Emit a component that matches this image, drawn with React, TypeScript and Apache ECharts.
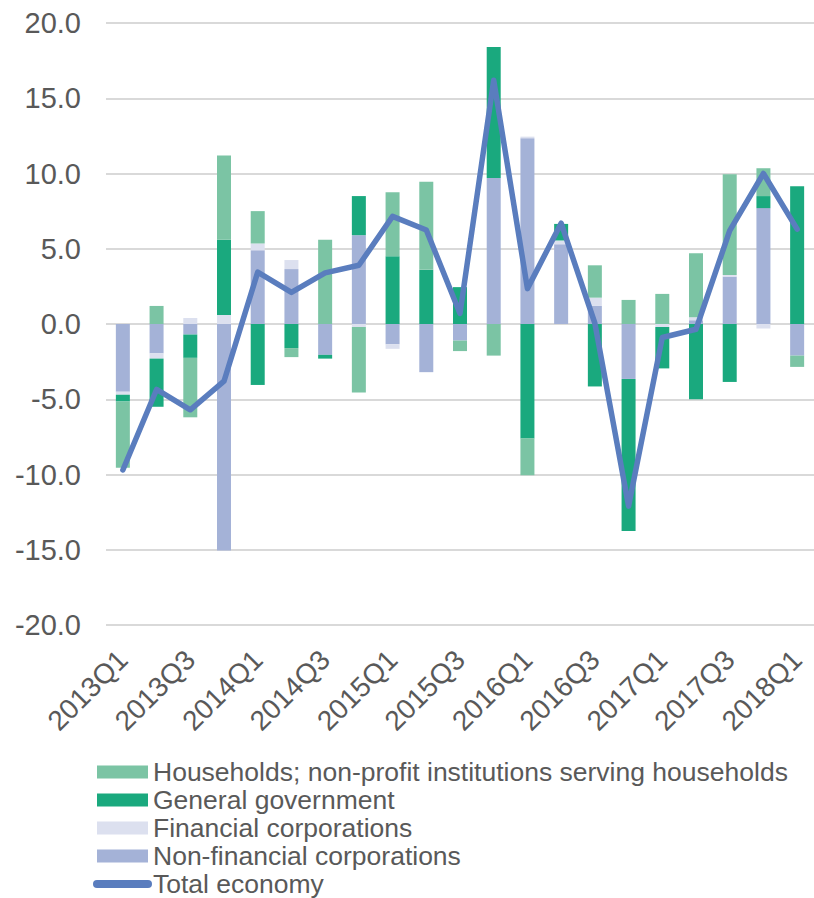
import React, { useEffect, useRef } from "react";
import * as echarts from "echarts";

const categories = [
  "2013Q1", "2013Q2", "2013Q3", "2013Q4",
  "2014Q1", "2014Q2", "2014Q3", "2014Q4",
  "2015Q1", "2015Q2", "2015Q3", "2015Q4",
  "2016Q1", "2016Q2", "2016Q3", "2016Q4",
  "2017Q1", "2017Q2", "2017Q3", "2017Q4",
  "2018Q1",
];

const nonFinancial = [-4.5, -1.95, -0.7, -15.05, 4.9, 3.65, -2.05, 5.9, -1.35, -3.2, -1.1, 9.7, 12.35, 5.3, 1.2, -3.65, 0, 0.25, 3.15, 7.7, -2.1];
const financial = [-0.2, -0.35, 0.4, 0.6, 0.45, 0.6, 0, -0.2, -0.3, 0, 0, 0, 0.1, 0.25, 0.55, 0, -0.2, 0.2, 0.1, -0.3, 0];
const government = [-0.45, -3.2, -1.55, 5.0, -4.05, -1.6, -0.25, 2.6, 4.5, 3.6, 2.45, 8.7, -7.6, 1.1, -4.15, -10.1, -2.75, -5.0, -3.85, 0.8, 9.15];
const households = [-4.4, 1.2, -3.95, 5.6, 2.15, -0.6, 5.6, -4.35, 4.25, 5.85, -0.7, -2.1, -2.45, 0, 2.15, 1.6, 2.0, 4.25, 6.7, 1.85, -0.75];
const totalEconomy = [-9.7, -4.35, -5.7, -3.8, 3.45, 2.1, 3.4, 3.9, 7.15, 6.25, 0.7, 16.2, 2.35, 6.7, 0.05, -12.1, -0.9, -0.35, 6.2, 10.0, 6.3];

const NAMES = {
  hh: "Households; non-profit institutions serving households",
  gg: "General government",
  fc: "Financial corporations",
  nfc: "Non-financial corporations",
  tot: "Total economy",
};

const COLORS = {
  hh: "#7BC4A4",
  gg: "#1AA97E",
  fc: "#DCE0EF",
  nfc: "#A4B2D7",
  tot: "#5A7DBE",
};

const FONT = "'Liberation Sans', Arial, sans-serif";
const TEXT = "#595959";

export default function App() {
  const ref = useRef<HTMLDivElement>(null);

  useEffect(() => {
    if (!ref.current) return;
    const chart = echarts.init(ref.current, undefined, { renderer: "svg" });
    const bar = (name: string, data: number[], color: string) => ({
      name,
      type: "bar",
      stack: "s",
      data,
      barWidth: 14,
      itemStyle: { color },
    });
    chart.setOption({
      animation: false,
      backgroundColor: "#ffffff",
      textStyle: { fontFamily: FONT },
      grid: { left: 106, right: 0, top: 23, bottom: 273, containLabel: false },
      xAxis: {
        type: "category",
        data: categories,
        axisLine: { show: false },
        axisTick: { show: false },
        axisLabel: {
          interval: 1,
          rotate: 45,
          margin: 30,
          fontSize: 28,
          color: TEXT,
          fontFamily: FONT,
        },
      },
      yAxis: {
        type: "value",
        min: -20,
        max: 20,
        interval: 5,
        axisLine: { show: false },
        axisTick: { show: false },
        splitLine: { lineStyle: { color: "#D9D9D9", width: 2 } },
        axisLabel: {
          margin: 25,
          fontSize: 29,
          color: TEXT,
          fontFamily: FONT,
          formatter: (v: number) => v.toFixed(1),
        },
      },
      legend: {
        orient: "vertical",
        left: 93,
        top: 758,
        padding: 0,
        itemWidth: 51,
        itemHeight: 13,
        itemGap: 0,
        textStyle: { fontSize: 26.5, lineHeight: 28, color: TEXT, fontFamily: FONT },
        data: [
          { name: NAMES.hh, icon: "rect" },
          { name: NAMES.gg, icon: "rect" },
          { name: NAMES.fc, icon: "rect" },
          { name: NAMES.nfc, icon: "rect" },
          {
            name: NAMES.tot,
            lineStyle: { width: 8, cap: "round" },
            itemStyle: { opacity: 0 },
          },
        ],
      },
      series: [
        bar(NAMES.nfc, nonFinancial, COLORS.nfc),
        bar(NAMES.fc, financial, COLORS.fc),
        bar(NAMES.gg, government, COLORS.gg),
        bar(NAMES.hh, households, COLORS.hh),
        {
          name: NAMES.tot,
          type: "line",
          data: totalEconomy,
          symbol: "none",
          z: 10,
          lineStyle: { color: COLORS.tot, width: 5.5, cap: "round", join: "round" },
          itemStyle: { color: COLORS.tot },
        },
      ],
    });
    return () => chart.dispose();
  }, []);

  return (
    <div
      ref={ref}
      style={{ position: "absolute", left: 0, top: 0, width: 814, height: 898, background: "#fff" }}
    />
  );
}
